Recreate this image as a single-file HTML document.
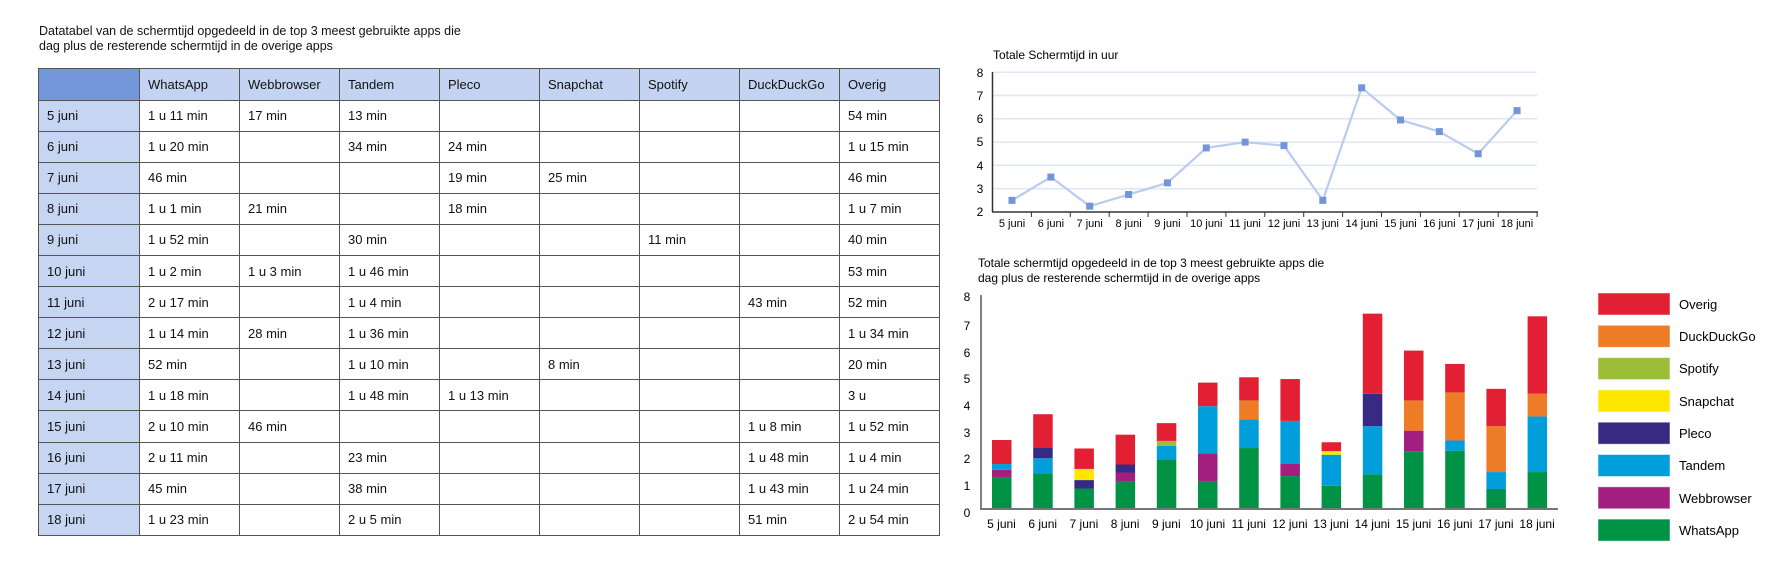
<!DOCTYPE html>
<html><head><meta charset="utf-8">
<style>
body{margin:0;width:1783px;height:572px;background:#fff;position:relative;overflow:hidden;font-family:"Liberation Sans",sans-serif;color:#111}
.t{position:absolute;left:39px;top:24px;font-size:12.5px;line-height:15px}
table{position:absolute;left:38px;top:68px;border-collapse:collapse;font-size:13px}
td{border:1.5px solid #555;width:100px;height:31.1px;padding:0 0 0 8px;box-sizing:border-box;background:#fff;white-space:nowrap}
tr:first-child td{background:#c4d3f1;height:31.5px}
tr:first-child td:first-child{background:#7397da}
td:first-child{background:#c5d5f2;width:101px}
</style></head><body>
<div class="t">Datatabel van de schermtijd opgedeeld in de top 3 meest gebruikte apps die<br>dag plus de resterende schermtijd in de overige apps</div>
<table>
<tr><td></td><td>WhatsApp</td><td>Webbrowser</td><td>Tandem</td><td>Pleco</td><td>Snapchat</td><td>Spotify</td><td>DuckDuckGo</td><td>Overig</td></tr>
<tr><td>5 juni</td><td>1 u 11 min</td><td>17 min</td><td>13 min</td><td></td><td></td><td></td><td></td><td>54 min</td></tr>
<tr><td>6 juni</td><td>1 u 20 min</td><td></td><td>34 min</td><td>24 min</td><td></td><td></td><td></td><td>1 u 15 min</td></tr>
<tr><td>7 juni</td><td>46 min</td><td></td><td></td><td>19 min</td><td>25 min</td><td></td><td></td><td>46 min</td></tr>
<tr><td>8 juni</td><td>1 u 1 min</td><td>21 min</td><td></td><td>18 min</td><td></td><td></td><td></td><td>1 u 7 min</td></tr>
<tr><td>9 juni</td><td>1 u 52 min</td><td></td><td>30 min</td><td></td><td></td><td>11 min</td><td></td><td>40 min</td></tr>
<tr><td>10 juni</td><td>1 u 2 min</td><td>1 u 3 min</td><td>1 u 46 min</td><td></td><td></td><td></td><td></td><td>53 min</td></tr>
<tr><td>11 juni</td><td>2 u 17 min</td><td></td><td>1 u 4 min</td><td></td><td></td><td></td><td>43 min</td><td>52 min</td></tr>
<tr><td>12 juni</td><td>1 u 14 min</td><td>28 min</td><td>1 u 36 min</td><td></td><td></td><td></td><td></td><td>1 u 34 min</td></tr>
<tr><td>13 juni</td><td>52 min</td><td></td><td>1 u 10 min</td><td></td><td>8 min</td><td></td><td></td><td>20 min</td></tr>
<tr><td>14 juni</td><td>1 u 18 min</td><td></td><td>1 u 48 min</td><td>1 u 13 min</td><td></td><td></td><td></td><td>3 u</td></tr>
<tr><td>15 juni</td><td>2 u 10 min</td><td>46 min</td><td></td><td></td><td></td><td></td><td>1 u 8 min</td><td>1 u 52 min</td></tr>
<tr><td>16 juni</td><td>2 u 11 min</td><td></td><td>23 min</td><td></td><td></td><td></td><td>1 u 48 min</td><td>1 u 4 min</td></tr>
<tr><td>17 juni</td><td>45 min</td><td></td><td>38 min</td><td></td><td></td><td></td><td>1 u 43 min</td><td>1 u 24 min</td></tr>
<tr><td>18 juni</td><td>1 u 23 min</td><td></td><td>2 u 5 min</td><td></td><td></td><td></td><td>51 min</td><td>2 u 54 min</td></tr>
</table>

<svg id="s" width="1783" height="572" style="position:absolute;left:0;top:0" font-family="Liberation Sans, sans-serif">
<text x="993" y="59" font-size="12">Totale Schermtijd in uur</text>
<g id="grid" stroke="#dfe6f4" stroke-width="1.5"></g>
<line x1="992.5" y1="72" x2="992.5" y2="212" stroke="#333" stroke-width="1.5"/>
<line x1="992" y1="212" x2="1538" y2="212" stroke="#333" stroke-width="1.5"/>
<g id="ticks" stroke="#333" stroke-width="1"></g>
<g font-size="12" text-anchor="middle">
<text x="980" y="77">8</text><text x="980" y="100">7</text><text x="980" y="123">6</text><text x="980" y="146">5</text><text x="980" y="170">4</text><text x="980" y="193">3</text><text x="980" y="216">2</text>
</g>
<g font-size="11" text-anchor="middle">
<text x="1012" y="227">5 juni</text><text x="1050.9" y="227">6 juni</text><text x="1089.7" y="227">7 juni</text><text x="1128.6" y="227">8 juni</text><text x="1167.4" y="227">9 juni</text><text x="1206.3" y="227">10 juni</text><text x="1245.1" y="227">11 juni</text><text x="1284" y="227">12 juni</text><text x="1322.8" y="227">13 juni</text><text x="1361.7" y="227">14 juni</text><text x="1400.5" y="227">15 juni</text><text x="1439.4" y="227">16 juni</text><text x="1478.2" y="227">17 juni</text><text x="1517" y="227">18 juni</text>
</g>
<polyline id="ln" fill="none" stroke="#b9cbef" stroke-width="2.2"/>
<g id="mk" fill="#7196dc"></g>

<text x="978" y="267" font-size="12">Totale schermtijd opgedeeld in de top 3 meest gebruikte apps die</text>
<text x="978" y="282" font-size="12">dag plus de resterende schermtijd in de overige apps</text>
<line x1="981" y1="295" x2="981" y2="509" stroke="#555" stroke-width="1.5"/>
<g id="bars"></g>
<line x1="980" y1="509" x2="1558" y2="509" stroke="#777" stroke-width="2"/>
<g font-size="12" text-anchor="middle">
<text x="967" y="517">0</text><text x="967" y="490">1</text><text x="967" y="463">2</text><text x="967" y="437">3</text><text x="967" y="410">4</text><text x="967" y="383">5</text><text x="967" y="357">6</text><text x="967" y="330">7</text><text x="967" y="301">8</text>
</g>
<g font-size="12" text-anchor="middle">
<text x="1001.5" y="528">5 juni</text><text x="1042.7" y="528">6 juni</text><text x="1083.9" y="528">7 juni</text><text x="1125.1" y="528">8 juni</text><text x="1166.3" y="528">9 juni</text><text x="1207.5" y="528">10 juni</text><text x="1248.7" y="528">11 juni</text><text x="1289.9" y="528">12 juni</text><text x="1331.1" y="528">13 juni</text><text x="1372.3" y="528">14 juni</text><text x="1413.5" y="528">15 juni</text><text x="1454.7" y="528">16 juni</text><text x="1495.9" y="528">17 juni</text><text x="1537.1" y="528">18 juni</text>
</g>
<g id="leg"></g>
<g font-size="13">
<text x="1679" y="309">Overig</text><text x="1679" y="341">DuckDuckGo</text><text x="1679" y="373">Spotify</text><text x="1679" y="406">Snapchat</text><text x="1679" y="438">Pleco</text><text x="1679" y="470">Tandem</text><text x="1679" y="503">Webbrowser</text><text x="1679" y="535">WhatsApp</text>
</g>
</svg>
<script>
var NS="http://www.w3.org/2000/svg";
function el(p,t,a){var e=document.createElementNS(NS,t);for(var k in a)e.setAttribute(k,a[k]);document.getElementById(p).appendChild(e);return e;}
var U=23.3;
for(var v=3;v<=8;v++){var y=212-(v-2)*U;el("grid","line",{x1:993,x2:1537,y1:y,y2:y});}
for(var k=1;k<=14;k++){var x=992.5+k*38.9;el("ticks","line",{x1:x,x2:x,y1:212,y2:217});}
var tot=[2.5,3.5,2.25,2.75,3.25,4.75,5,4.85,2.5,7.33,5.95,5.45,4.5,6.35],pts=[];
tot.forEach(function(v,i){var x=1012+i*38.85,y=212-(v-2)*U;pts.push(x+","+y);el("mk","rect",{x:x-3.5,y:y-3.5,width:7,height:7});});
document.getElementById("ln").setAttribute("points",pts.join(" "));
var C=["#009245","#a21f80","#009fdb","#362a83","#ffe600","#9cbd38","#ee7b26","#e31f33"];
var D=[[71,17,13,0,0,0,0,54],[80,0,34,24,0,0,0,75],[46,0,0,19,25,0,0,46],[61,21,0,18,0,0,0,67],[112,0,30,0,0,11,0,40],[62,63,106,0,0,0,0,53],[137,0,64,0,0,0,43,52],[74,28,96,0,0,0,0,94],[52,0,70,0,8,0,0,20],[78,0,108,73,0,0,0,180],[130,46,0,0,0,0,68,112],[131,0,23,0,0,0,108,64],[45,0,38,0,0,0,103,84],[83,0,125,0,0,0,51,174]];
D.forEach(function(r,i){var y=509,x=992+i*41.2;r.forEach(function(m,j){if(!m)return;var h=m/60*26.7;y-=h;el("bars","rect",{x:x,y:y,width:19.5,height:h,fill:C[j]});});});
for(var j=0;j<8;j++){el("leg","rect",{x:1598,y:293+(7-j)*32.3,width:72,height:22,fill:C[j],stroke:"#fff",'stroke-opacity':0.5});}
</script>
</body></html>
